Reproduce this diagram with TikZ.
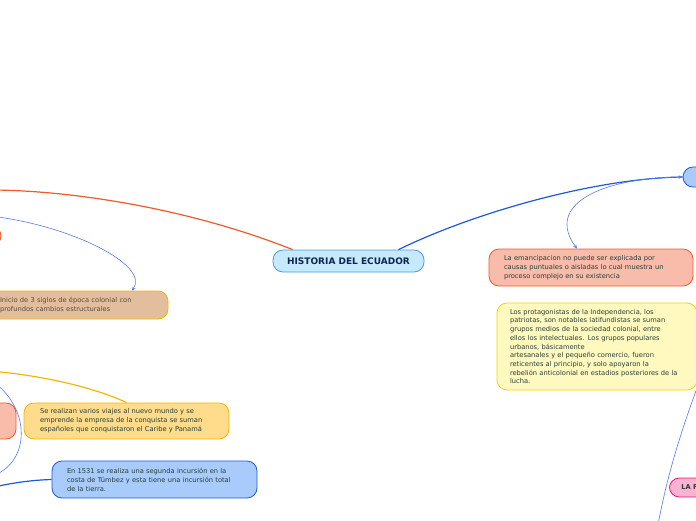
\documentclass[tikz,border=0pt]{standalone}
\usepackage{fontspec}
\setmainfont{DejaVu Sans}
\usetikzlibrary{arrows.meta}

\definecolor{txtgreen}{HTML}{263F36}
\definecolor{navy}{HTML}{0F2650}
\definecolor{skyfill}{HTML}{C6E9FB}
\definecolor{skyline}{HTML}{4A9BDE}
\definecolor{redline}{HTML}{F05A28}
\definecolor{salmonfill}{HTML}{F9BCAA}
\definecolor{thinblue}{HTML}{5A78F0}
\definecolor{deepblue}{HTML}{1A5CD6}
\definecolor{bluefill}{HTML}{A8CBFC}
\definecolor{amber}{HTML}{F8B500}
\definecolor{amberfill}{HTML}{FEDC8B}
\definecolor{brownfill}{HTML}{E3BE9D}
\definecolor{browntxt}{HTML}{5B4A3C}
\definecolor{palefill}{HTML}{FFF9BF}
\definecolor{paleline}{HTML}{EDD800}
\definecolor{pinkfill}{HTML}{FBB2D3}
\definecolor{pinkline}{HTML}{E8157A}

\begin{document}
\begin{tikzpicture}[x=1pt,y=-1pt,
  every node/.style={
    draw, rounded corners=10pt, align=left, text=txtgreen,
    font=\fontsize{6.7}{9}\selectfont, line width=0.8pt, inner ysep=0pt
  },
  central/.style={fill=skyfill, draw=skyline, text=navy, align=center,
    font=\fontsize{9}{10}\selectfont\bfseries,
    minimum width=151pt, minimum height=22pt},
  salmon/.style={fill=salmonfill, draw=redline},
  blueidea/.style={fill=bluefill, draw=deepblue},
  link/.style={draw=thinblue, line width=0.6pt},
  branch/.style={line width=1.2pt},
  tip/.style={-{Stealth[length=4pt,width=3.5pt]}}
]
\useasboundingbox (0,0) rectangle (696,520);
\clip (0,0) rectangle (696,520);

% centre
\node[central] (hist) at (348.5,261) {HISTORIA DEL ECUADOR};

% left side
\node[salmon, minimum width=61pt, minimum height=20pt] (leftup) at (-29.5,236) {};
\node[fill=brownfill, draw=amber, text=browntxt, inner xsep=14pt,
  text width=154pt, minimum height=28pt] (colonia) at (77,305)
  {Inicio de 3 siglos de época colonial con\\profundos cambios estructurales};
\node[salmon, minimum width=76pt, minimum height=36pt] (leftdown) at (-22,421) {};
\node[fill=amberfill, draw=amber, inner xsep=16pt, text width=173pt,
  minimum height=36pt] (viajes) at (126.5,421)
  {Se realizan varios viajes al nuevo mundo y se\\
   emprende la empresa de la conquista se suman\\
   españoles que conquistaron el Caribe y Panamá};
\node[blueidea, inner xsep=15pt, text width=175pt, minimum height=37pt]
  (tumbez) at (154.5,479.5)
  {En 1531 se realiza una segunda incursión en la\\
   costa de Túmbez y esta tiene una incursión total\\
   de la tierra.};

% right side
\node[blueidea, minimum width=57pt, minimum height=20pt] (indep) at (711.5,177) {};
\node[salmon, inner xsep=15pt, text width=174pt, minimum height=37pt]
  (emancip) at (591,267.5)
  {La emancipacion no puede ser explicada por\\
   causas puntuales o aisladas lo cual muestra un\\
   proceso complejo en su existencia};
\node[fill=palefill, draw=paleline, inner xsep=13pt, text width=174pt,
  minimum height=87pt, font=\fontsize{6.7}{8.7}\selectfont] (protag) at (597,346.5)
  {Los protagonistas de la Independencia, los\\
   patriotas, son notables latifundistas se suman\\
   grupos medios de la sociedad colonial, entre\\
   ellos los intelectuales. Los grupos populares\\
   urbanos, básicamente\\
   artesanales y el pequeño comercio, fueron\\
   reticentes al principio, y solo apoyaron la\\
   rebelión anticolonial en estadios posteriores de la\\
   lucha.};
\node[fill=pinkfill, draw=pinkline, anchor=west, inner xsep=12pt,
  text width=60pt, minimum height=19pt, font=\fontsize{6.7}{8}\selectfont\bfseries]
  (lafase) at (669,487.5) {LA F};

% free ends
\coordinate (offA) at (-10,190);
\coordinate (offB) at (-10,216);
\coordinate (offC) at (-10,371);
\coordinate (offD) at (-5,383);
\coordinate (offE) at (-5,475);
\coordinate (offF) at (-10,488);
\coordinate (offG) at (700,380);
\coordinate (offH) at (658,525);

% connectors
\draw[branch, redline] ([xshift=20pt]hist.north west)
  .. controls (180,205) and (60,190) .. (offA);
\draw[branch, deepblue] ([xshift=50pt]hist.north)
  .. controls (480,210) and (600,178) .. (indep.west);
\draw[link, tip] (offB) .. controls (70,225) and (150,265) .. ([xshift=55pt]colonia.north);
\draw[branch, amber] (offC) .. controls (50,376) and (100,390) .. (viajes.north);
\draw[link] (offD) .. controls (30,410) and (30,460) .. (offE);
\draw[branch, deepblue] (offF) .. controls (15,482) and (35,480) .. (tumbez.west);
\draw[link, {Stealth[length=4pt,width=3.5pt]}-{Stealth[length=4pt,width=3.5pt]}]
  (indep.west) .. controls (600,178) and (545,205) .. ([xshift=-14pt]emancip.north);
\draw[link] (offG) .. controls (685,420) and (668,470) .. (offH);
\end{tikzpicture}
\end{document}
